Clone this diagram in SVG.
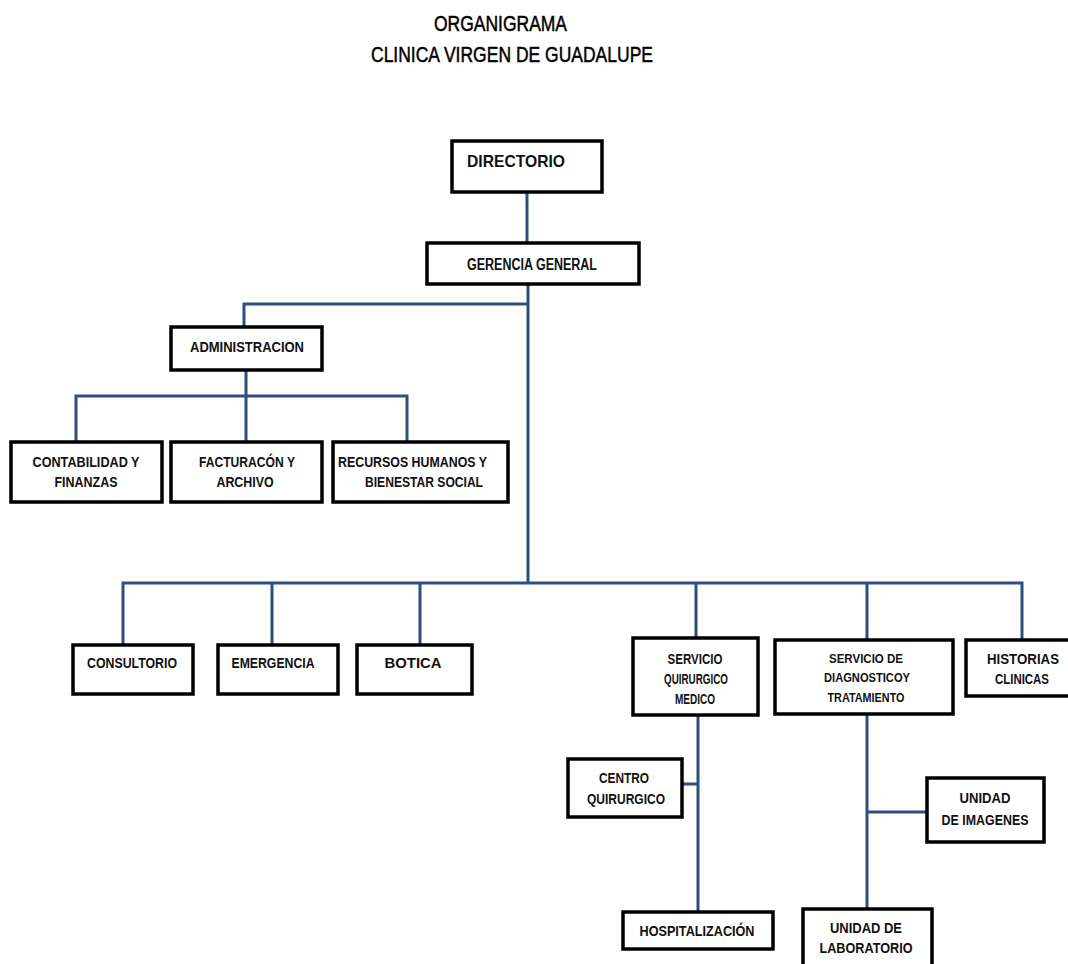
<svg xmlns="http://www.w3.org/2000/svg" width="1068" height="964" viewBox="0 0 1068 964">
<style>
.box{fill:#fff;stroke:#000;stroke-width:3.5}
.t{font-family:"Liberation Sans",Arial,sans-serif;font-weight:bold;font-size:15px;fill:#111;text-anchor:middle}
.tl{text-anchor:start}
.title{font-family:"Liberation Sans",Arial,sans-serif;font-size:22px;fill:#000;stroke:#000;stroke-width:0.5;text-anchor:start}
.c{fill:none;stroke:#2e4f7e;stroke-width:3}
</style>
<rect width="1068" height="964" fill="#fff"/>
<text class="title" x="434" y="31" textLength="133" lengthAdjust="spacingAndGlyphs">ORGANIGRAMA</text>
<text class="title" x="371" y="62" textLength="282" lengthAdjust="spacingAndGlyphs">CLINICA VIRGEN DE GUADALUPE</text>
<g id="connectors">
<path class="c" d="M527 192V243"/>
<path class="c" d="M528 284V583"/>
<path class="c" d="M528 304H244V327"/>
<path class="c" d="M246 370V396M76 442V396H407V442M246 396V442"/>
<path class="c" d="M123 645V583H1022V640M272 583V645M420 583V645M696 583V638M867 583V640"/>
<path class="c" d="M698 715V912M682 784H698"/>
<path class="c" d="M867 714V909M867 812H927"/>
</g>
<g id="directorio"><rect class="box" x="452" y="141" width="150" height="51"/><text class="t tl" x="467" y="167" textLength="98" lengthAdjust="spacingAndGlyphs" style="font-size:16.5px">DIRECTORIO</text></g>
<g id="gerencia"><rect class="box" x="427" y="243" width="212" height="41"/><text class="t" x="532" y="270" textLength="130" lengthAdjust="spacingAndGlyphs" style="font-size:16px">GERENCIA GENERAL</text></g>
<g id="administracion"><rect class="box" x="171" y="327" width="151" height="43"/><text class="t" x="247" y="352" textLength="114" lengthAdjust="spacingAndGlyphs">ADMINISTRACION</text></g>
<g id="contabilidad"><rect class="box" x="11" y="442" width="151" height="60"/><text class="t" x="86" y="467" textLength="107" lengthAdjust="spacingAndGlyphs">CONTABILIDAD Y</text><text class="t" x="86" y="487" textLength="63" lengthAdjust="spacingAndGlyphs">FINANZAS</text></g>
<g id="facturacion"><rect class="box" x="171" y="442" width="151" height="60"/><text class="t" x="247" y="467" textLength="96" lengthAdjust="spacingAndGlyphs">FACTURACÓN Y</text><text class="t" x="245" y="487" textLength="57" lengthAdjust="spacingAndGlyphs">ARCHIVO</text></g>
<g id="recursos"><rect class="box" x="333" y="442" width="175" height="60"/><text class="t tl" x="338" y="467" textLength="149" lengthAdjust="spacingAndGlyphs">RECURSOS HUMANOS Y</text><text class="t tl" x="365" y="487" textLength="118" lengthAdjust="spacingAndGlyphs">BIENESTAR SOCIAL</text></g>
<g id="consultorio"><rect class="box" x="73" y="645" width="120" height="49"/><text class="t" x="132" y="668" textLength="90" lengthAdjust="spacingAndGlyphs">CONSULTORIO</text></g>
<g id="emergencia"><rect class="box" x="218" y="645" width="120" height="49"/><text class="t" x="273" y="668" textLength="83" lengthAdjust="spacingAndGlyphs">EMERGENCIA</text></g>
<g id="botica"><rect class="box" x="357" y="645" width="115" height="49"/><text class="t" x="413" y="668" textLength="57" lengthAdjust="spacingAndGlyphs">BOTICA</text></g>
<g id="servicio-quirurgico"><rect class="box" x="633" y="638" width="125" height="77"/><text class="t" x="695" y="664" textLength="55" lengthAdjust="spacingAndGlyphs">SERVICIO</text><text class="t" x="696" y="684" textLength="64" lengthAdjust="spacingAndGlyphs">QUIRURGICO</text><text class="t" x="695" y="704" textLength="40" lengthAdjust="spacingAndGlyphs">MEDICO</text></g>
<g id="servicio-diagnostico"><rect class="box" x="775" y="640" width="178" height="74"/><text class="t" x="866" y="663" textLength="74" lengthAdjust="spacingAndGlyphs" style="font-size:13px">SERVICIO DE</text><text class="t" x="867" y="682" textLength="86" lengthAdjust="spacingAndGlyphs" style="font-size:13px">DIAGNOSTICOY</text><text class="t" x="866" y="702" textLength="77" lengthAdjust="spacingAndGlyphs" style="font-size:13px">TRATAMIENTO</text></g>
<g id="historias"><rect class="box" x="966" y="640" width="106" height="56"/><text class="t" x="1023" y="664" textLength="72" lengthAdjust="spacingAndGlyphs">HISTORIAS</text><text class="t" x="1022" y="684" textLength="54" lengthAdjust="spacingAndGlyphs">CLINICAS</text></g>
<g id="centro-quirurgico"><rect class="box" x="568" y="759" width="114" height="58"/><text class="t" x="624" y="783" textLength="50" lengthAdjust="spacingAndGlyphs">CENTRO</text><text class="t" x="626" y="804" textLength="78" lengthAdjust="spacingAndGlyphs">QUIRURGICO</text></g>
<g id="hospitalizacion"><rect class="box" x="623" y="912" width="150" height="37"/><text class="t" x="697" y="936" textLength="115" lengthAdjust="spacingAndGlyphs">HOSPITALIZACIÓN</text></g>
<g id="unidad-imagenes"><rect class="box" x="927" y="778" width="117" height="64"/><text class="t" x="985" y="803" textLength="51" lengthAdjust="spacingAndGlyphs">UNIDAD</text><text class="t" x="985" y="825" textLength="87" lengthAdjust="spacingAndGlyphs">DE IMAGENES</text></g>
<g id="unidad-laboratorio"><rect class="box" x="803" y="909" width="129" height="62"/><text class="t" x="866" y="933" textLength="72" lengthAdjust="spacingAndGlyphs">UNIDAD DE</text><text class="t" x="866" y="953" textLength="93" lengthAdjust="spacingAndGlyphs">LABORATORIO</text></g>
</svg>
